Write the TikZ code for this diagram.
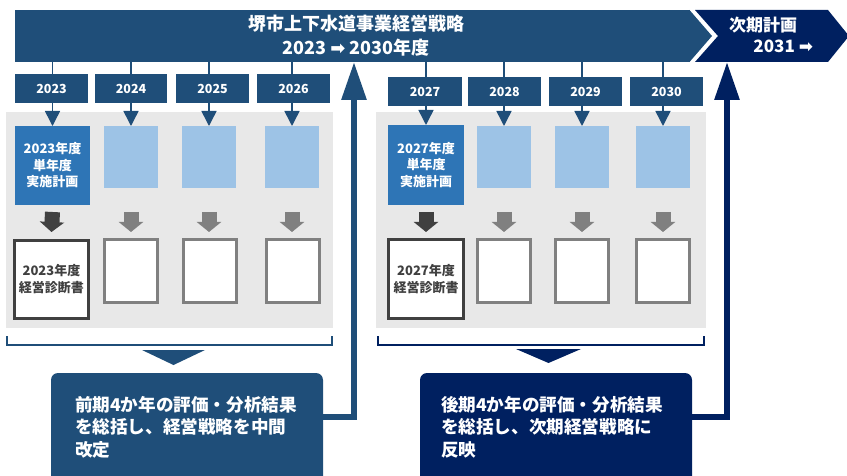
\documentclass[tikz,border=0pt]{standalone}
\usepackage{fontspec}
\setmainfont{Noto Sans CJK JP}
\newfontfamily\sym{DejaVu Sans}
\usetikzlibrary{arrows.meta}
\definecolor{cA}{HTML}{1F4E79}
\definecolor{cB}{HTML}{002060}
\definecolor{cPlan}{HTML}{2E75B6}
\definecolor{cLight}{HTML}{9DC3E6}
\definecolor{cPanel}{HTML}{E8E8E8}
\definecolor{cDark}{HTML}{404040}
\definecolor{cGray}{HTML}{808080}
\begin{document}
\begin{tikzpicture}[x=1pt,y=-1pt,
  every node/.style={inner sep=0pt,outer sep=0pt},
  yearbox/.style={fill=cA,text=white,font=\bfseries\fontsize{12.5}{14}\selectfont,minimum height=29,minimum width=73},
  planbox/.style={fill=cPlan,text=white,align=center,font=\bfseries\fontsize{13}{16.5}\selectfont},
  lightbox/.style={fill=cLight,minimum width=54,minimum height=62},
  docfirst/.style={draw=cDark,line width=3,fill=white,text=cDark,align=center,font=\bfseries\fontsize{13}{17}\selectfont},
  docbox/.style={draw=cGray,line width=3,fill=white,minimum width=53,minimum height=62},
  panel/.style={fill=cPanel,minimum width=327,minimum height=216},
  yline/.style={cA,line width=1.5},
  ytip/.style={cA,line width=1.5,-{Triangle[length=15pt,width=15pt]}},
  blkdark/.style={cDark,line width=15,-{Triangle[length=10pt,width=24pt]}},
  blkgray/.style={cGray,line width=15,-{Triangle[length=10pt,width=24pt]}},
  upA/.style={line width=6,line join=miter,-{Triangle[length=38pt,width=24pt]}},
  note/.style={rounded corners=7,minimum width=272,minimum height=127},
  notetext/.style={text=white,align=left,font=\bfseries\fontsize{17.6}{22.5}\selectfont,anchor=west},
  bracket/.style={line width=2}
]
\useasboundingbox (0,0) rectangle (847,476);
\clip (0,0) rectangle (847,476);

% top banner
\node[fill=cA,minimum width=675,minimum height=52] (banner) at (352.5,36) {};
\fill[cA] ([xshift=-0.5]banner.north east) -- (712,36) -- ([xshift=-0.5]banner.south east) -- cycle;
\node[text=white,align=center,font=\bfseries\fontsize{18}{24}\selectfont] (title) at (356,36)
  {堺市上下水道事業経営戦略\\2023 {\sym ➡} 2030年度};
\fill[cB] (695,10) -- (828,10) -- (849,36) -- (828,62) -- (695,62) -- (718,36) -- cycle;
\node[text=white,anchor=west,font=\bfseries\fontsize{17}{20}\selectfont] (nxt) at (729,25) {次期計画};
\node[text=white,anchor=east,font=\bfseries\fontsize{17}{20}\selectfont] (nxtyr) at (813,46) {2031 {\sym ➡}};
\coordinate (up1) at (354,62);
\coordinate (up2) at (727,62);

% panels
\node[panel] (pan1) at (169.5,220) {};
\node[panel,minimum width=330] (pan2) at (541,220) {};

% year boxes
\node[yearbox] (y1) at (51.5,88.5) {2023};
\node[yearbox,minimum width=72] (y2) at (131,88.5) {2024};
\node[yearbox] (y3) at (212.5,88.5) {2025};
\node[yearbox] (y4) at (293.5,88.5) {2026};
\node[yearbox,minimum width=74] (y5) at (425,91.5) {2027};
\node[yearbox] (y6) at (504.5,91.5) {2028};
\node[yearbox] (y7) at (585.5,91.5) {2029};
\node[yearbox] (y8) at (666.5,91.5) {2030};

% plan boxes
\node[planbox,minimum width=75,minimum height=79] (p1) at (52.5,165.5) {2023年度\\単年度\\実施計画};
\node[lightbox] (p2) at (131,157) {};
\node[lightbox] (p3) at (209,157) {};
\node[lightbox] (p4) at (292,157) {};
\node[planbox,minimum width=76,minimum height=80] (p5) at (426,165) {2027年度\\単年度\\実施計画};
\node[lightbox] (p6) at (504,157) {};
\node[lightbox] (p7) at (582,157) {};
\node[lightbox] (p8) at (663,157) {};

% doc boxes
\node[docfirst,minimum width=74,minimum height=78] (d1) at (51.5,279.5) {2023年度\\経営診断書};
\node[docbox] (d2) at (131,271) {};
\node[docbox] (d3) at (209.5,271) {};
\node[docbox] (d4) at (292.5,271) {};
\node[docfirst,minimum width=75,minimum height=79] (d5) at (426,279) {2027年度\\経営診断書};
\node[docbox] (d6) at (503.5,271) {};
\node[docbox] (d7) at (581.5,271) {};
\node[docbox] (d8) at (663,271) {};

% banner -> year -> plan
\foreach \i in {1,...,8}{
  \draw[yline] (banner.south -| p\i) -- (y\i.north -| p\i);
  \draw[ytip] (y\i.south -| p\i) -- (p\i.north);
}

% block arrows plan -> doc
\coordinate (ab) at (0,212);
\coordinate (ae) at (0,232);
\draw[blkdark] (ab -| p1) -- (ae -| d1);
\draw[blkdark] (ab -| p5) -- (ae -| d5);
\foreach \i in {2,3,4,6,7,8}{
  \draw[blkgray] (ab -| p\i) -- (ae -| p\i);
}

% brackets
\draw[bracket,cA] (6.5,336) -- (6.5,345) -- (332,345) -- (332,336);
\draw[bracket,cB] (377.5,336) -- (377.5,345) -- (703.5,345) -- (703.5,336);
\fill[cA] (142,350) -- (205,350) -- (173.5,365) -- cycle;
\fill[cB] (516,349) -- (581,349) -- (548.5,363) -- cycle;

% summary boxes
\node[note,fill=cA] (b1) at (187,436.5) {};
\node[note,fill=cB] (b2) at (556,436.5) {};
\node[notetext] (t1) at (75,427) {前期4か年の評価・分析結果\\を総括し、経営戦略を中間\\改定};
\node[notetext] (t2) at (441,427) {後期4か年の評価・分析結果\\を総括し、次期経営戦略に\\反映};

% feedback arrows
\draw[upA,cA] ([yshift=20pt]b1.east) -| (up1);
\draw[upA,cB] ([yshift=20pt]b2.east) -| (up2);
\end{tikzpicture}
\end{document}
